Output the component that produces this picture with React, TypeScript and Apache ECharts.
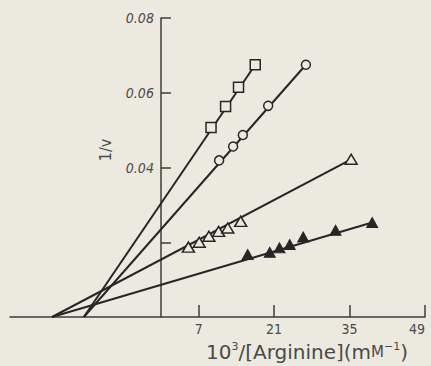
import React, { useEffect, useRef } from "react";
import * as echarts from "echarts";

// Reciprocal data (x = 10^3/[Arginine], y = 1/v)
const squareX = [9.3, 12.0, 14.4, 17.5];
const squareY = [0.0507, 0.0563, 0.0615, 0.0675];
const circleX = [10.8, 13.4, 15.2, 19.9, 26.9];
const circleY = [0.0419, 0.0456, 0.0487, 0.0565, 0.0675];
const openTriX = [5.1, 7.1, 8.9, 10.7, 12.4, 14.8, 35.3];
const openTriY = [0.0187, 0.02, 0.0216, 0.0229, 0.0238, 0.0256, 0.0422];
const filledTriX = [16.1, 20.2, 22.0, 23.9, 26.4, 32.4, 39.2];
const filledTriY = [0.0167, 0.0173, 0.0185, 0.0194, 0.0214, 0.0232, 0.0253];
// x-axis intercepts of the drawn lines: square, circle, open triangle, filled triangle
const xIntercepts = [-14.3, -14.3, -20.2, -20.2];

const xTickValues = [7, 21, 35, 49];
const yTickValues = [0.02, 0.04, 0.06, 0.08];
const yLabelValues = [0.04, 0.06, 0.08];

const X_MIN = -28;
const X_MAX = 49;
const GRID_LEFT = 10;
const GRID_RIGHT = 6;
const WIDTH = 431;

const BG = "#ece9df";
const INK = "#262626";
const AXIS = "#3c3c3c";
const TEXT = "#4a4a4a";
const FONT = "'DejaVu Sans Condensed', 'Liberation Sans Narrow', 'DejaVu Sans', sans-serif";
const TITLE_FONT = "'DejaVu Sans', sans-serif";

const zip = (xs: number[], ys: number[]) => xs.map((x, i) => [x, ys[i]]);
const fitLine = (xInt: number, xs: number[], ys: number[]) => [
  [xInt, 0],
  [xs[xs.length - 1], ys[ys.length - 1]],
];

export default function App() {
  const ref = useRef<HTMLDivElement>(null);

  useEffect(() => {
    if (!ref.current) return;
    const chart = echarts.init(ref.current, undefined, { renderer: "svg" });

    // put the y axis (with its labels) at x = 0
    const plotW = WIDTH - GRID_LEFT - GRID_RIGHT;
    const zeroOffset = ((0 - X_MIN) / (X_MAX - X_MIN)) * plotW;

    const lineSeries = (data: number[][]) => ({
      type: "line",
      data,
      symbol: "none",
      lineStyle: { color: INK, width: 2 },
      z: 2,
      silent: true,
    });

    const openMarker = { color: BG, borderColor: INK, borderWidth: 1.5, opacity: 1 };

    chart.setOption({
      animation: false,
      backgroundColor: BG,
      grid: {
        left: GRID_LEFT,
        right: GRID_RIGHT,
        top: 18,
        bottom: 49,
        containLabel: false,
        outerBoundsMode: "none",
      },
      xAxis: {
        type: "value",
        min: X_MIN,
        max: X_MAX,
        splitLine: { show: false },
        axisLine: { show: true, onZero: true, lineStyle: { color: AXIS, width: 1.5 } },
        axisTick: {
          show: true,
          inside: true,
          length: 12,
          customValues: xTickValues,
          lineStyle: { color: AXIS, width: 1.5 },
        },
        axisLabel: {
          show: true,
          customValues: xTickValues,
          color: TEXT,
          fontSize: 14,
          fontFamily: FONT,
          margin: 5,
          alignMaxLabel: "right",
        },
      },
      yAxis: {
        type: "value",
        min: 0,
        max: 0.08,
        offset: -zeroOffset,
        splitLine: { show: false },
        axisLine: { show: true, onZero: false, lineStyle: { color: AXIS, width: 1.5 } },
        axisTick: {
          show: true,
          inside: true,
          length: 10,
          customValues: yTickValues,
          lineStyle: { color: AXIS, width: 1.5 },
        },
        axisLabel: {
          show: true,
          customValues: yLabelValues,
          formatter: (v: number) => v.toFixed(2),
          color: TEXT,
          fontSize: 14,
          fontStyle: "italic",
          fontFamily: FONT,
          margin: 7,
        },
      },
      series: [
        lineSeries(fitLine(xIntercepts[0], squareX, squareY)),
        lineSeries(fitLine(xIntercepts[1], circleX, circleY)),
        lineSeries(fitLine(xIntercepts[2], openTriX, openTriY)),
        lineSeries(fitLine(xIntercepts[3], filledTriX, filledTriY)),
        {
          type: "scatter",
          data: zip(squareX, squareY),
          symbol: "rect",
          symbolSize: 10,
          itemStyle: openMarker,
          z: 3,
        },
        {
          type: "scatter",
          data: zip(circleX, circleY),
          symbol: "circle",
          symbolSize: 9,
          itemStyle: openMarker,
          z: 3,
        },
        {
          type: "scatter",
          data: zip(openTriX, openTriY),
          symbol: "triangle",
          symbolSize: [12, 10],
          itemStyle: openMarker,
          z: 3,
        },
        {
          type: "scatter",
          data: zip(filledTriX, filledTriY),
          symbol: "triangle",
          symbolSize: [11, 10],
          itemStyle: { color: INK, borderColor: INK, borderWidth: 1, opacity: 1 },
          z: 3,
        },
      ],
      graphic: [
        {
          type: "text",
          x: 105,
          y: 150,
          rotation: Math.PI / 2,
          style: {
            text: "1/v",
            fill: TEXT,
            font: `16px ${FONT}`,
            align: "center",
            verticalAlign: "middle",
          },
        },
        {
          type: "text",
          x: 307,
          y: 352,
          style: {
            text: "{n|10}{s|3}{n|/[Arginine](m}{c|M}{s|−1}{n|)}",
            align: "center",
            verticalAlign: "middle",
            rich: {
              n: { fontSize: 20, fontFamily: TITLE_FONT, fill: TEXT, lineHeight: 22 },
              c: { fontSize: 15, fontFamily: TITLE_FONT, fill: TEXT, lineHeight: 22 },
              s: {
                fontSize: 11,
                fontFamily: TITLE_FONT,
                fill: TEXT,
                lineHeight: 22,
                verticalAlign: "top",
              },
            },
          },
        },
      ],
    });

    return () => chart.dispose();
  }, []);

  return (
    <div
      ref={ref}
      style={{ position: "fixed", left: 0, top: 0, width: 431, height: 366, background: BG }}
    />
  );
}
